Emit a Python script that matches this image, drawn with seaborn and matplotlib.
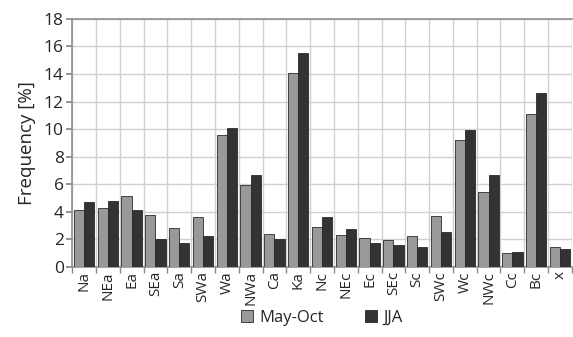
import numpy as np
import pandas as pd
import matplotlib
matplotlib.use('Agg')
import matplotlib.pyplot as plt
import seaborn as sns

types = ['Na', 'NEa', 'Ea', 'SEa', 'Sa', 'SWa', 'Wa', 'NWa', 'Ca', 'Ka',
         'Nc', 'NEc', 'Ec', 'SEc', 'Sc', 'SWc', 'Wc', 'NWc', 'Cc', 'Bc', 'x']
may_oct = [4.1, 4.3, 5.15, 3.75, 2.8, 3.6, 9.55, 5.95, 2.4, 14.05,
           2.9, 2.35, 2.1, 1.95, 2.25, 3.7, 9.2, 5.45, 1.0, 11.1, 1.45]
jja = [4.7, 4.75, 4.15, 2.0, 1.7, 2.25, 10.05, 6.7, 2.05, 15.55,
       3.6, 2.75, 1.75, 1.6, 1.45, 2.55, 9.9, 6.65, 1.05, 12.6, 1.3]

df = pd.DataFrame({'Type': types * 2,
                   'Frequency': may_oct + jja,
                   'Season': ['May-Oct'] * len(types) + ['JJA'] * len(types)})

sns.set_theme(style='white')
plt.rcParams['font.family'] = ['Open Sans', 'DejaVu Sans']

fig = plt.figure(figsize=(5.73, 3.37), dpi=100)
ax = fig.add_axes([0.126, 0.208, 0.872, 0.736])

sns.barplot(data=df, x='Type', y='Frequency', hue='Season',
            palette={'May-Oct': '#999999', 'JJA': '#333333'},
            width=0.86, edgecolor='#2a2a2a', linewidth=0.6, ax=ax, zorder=3)

ax.set_ylim(0, 18)
ax.set_xlim(-0.5, len(types) - 0.5)
ax.set_yticks(range(0, 19, 2))
ax.set_xticks(np.arange(-0.5, len(types), 1), minor=True)
ax.grid(axis='y', which='major', color='#d0d0d0', linewidth=1, zorder=0)
ax.grid(axis='x', which='minor', color='#d0d0d0', linewidth=1, zorder=0)
ax.set_axisbelow(True)

ax.tick_params(axis='x', which='major', length=0, labelrotation=90, labelsize=11, pad=3)
ax.tick_params(axis='x', which='minor', length=4, color='#888888', bottom=True)
ax.tick_params(axis='y', length=4, color='#888888', left=True, labelsize=12.5, pad=2)

for side in ['left', 'top', 'bottom']:
    ax.spines[side].set_color('#909090')
    ax.spines[side].set_linewidth(1.2)
ax.spines['right'].set_visible(False)

ax.set_xlabel('')
ax.set_ylabel('Frequency [%]', fontsize=13.5, labelpad=6)

ax.legend(loc='center', bbox_to_anchor=(0.5, -0.205), ncol=2, frameon=False,
          fontsize=12, handlelength=0.7, handleheight=0.7, columnspacing=2.5,
          handletextpad=0.4)

fig.savefig('out.png', dpi=100)
